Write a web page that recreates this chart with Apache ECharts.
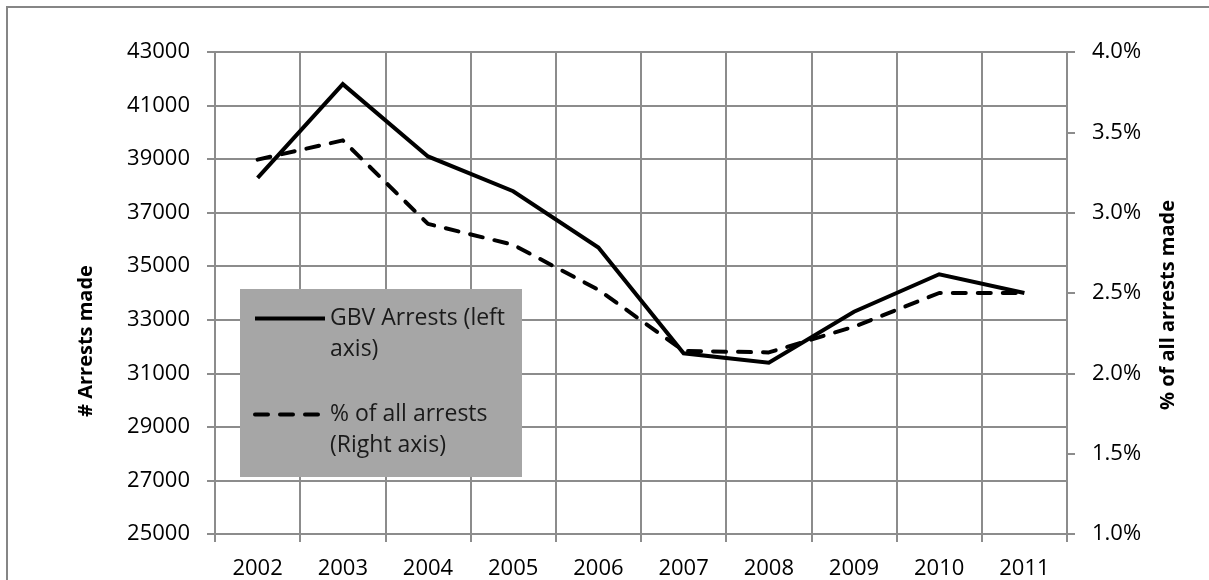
<!DOCTYPE html>
<html>
<head>
<meta charset="utf-8">
<script src="https://cdn.jsdelivr.net/npm/echarts@6/dist/echarts.min.js"></script>
<style>
html,body{margin:0;padding:0;background:#fff;}
#chart{width:1209px;height:580px;}
</style>
</head>
<body>
<div id="chart"></div>
<script>
const years = ['2002','2003','2004','2005','2006','2007','2008','2009','2010','2011'];
const gbvArrests = [38300, 41800, 39100, 37800, 35700, 31750, 31400, 33300, 34700, 34000];
const pctOfAll = [3.33, 3.45, 2.93, 2.80, 2.52, 2.14, 2.13, 2.29, 2.50, 2.50];
const leftTicks = [25000, 27000, 29000, 31000, 33000, 35000, 37000, 39000, 41000, 43000];
const rightTicks = [1.0, 1.5, 2.0, 2.5, 3.0, 3.5, 4.0];
const seriesNames = ['GBV Arrests (left axis)', '% of all arrests (Right axis)'];
const legendLabels = ['GBV Arrests (left\naxis)', '% of all arrests\n(Right axis)'];
const leftTitle = '# Arrests made';
const rightTitle = '% of all arrests made';

const FONT = '"Open Sans", "Liberation Sans", sans-serif';
const GRID = '#8c8c8c';

const chart = echarts.init(document.getElementById('chart'), null, {renderer: 'canvas'});
chart.setOption({
  animation: false,
  backgroundColor: '#fff',
  textStyle: {fontFamily: FONT},
  grid: {left: 215, right: 142, top: 52, bottom: 43, containLabel: false},
  xAxis: {
    type: 'category',
    data: years,
    boundaryGap: true,
    axisLine: {show: true, lineStyle: {color: GRID, width: 2}},
    axisTick: {show: true, length: 8, inside: false, lineStyle: {color: GRID, width: 2}},
    splitLine: {show: true, lineStyle: {color: GRID, width: 2}},
    axisLabel: {color: '#000', fontSize: 22, fontFamily: FONT, margin: 24}
  },
  yAxis: [
    {
      type: 'value',
      min: leftTicks[0],
      max: leftTicks[leftTicks.length - 1],
      axisLine: {show: true, lineStyle: {color: GRID, width: 2}},
      axisTick: {show: true, length: 8, inside: false, customValues: leftTicks, lineStyle: {color: GRID, width: 2}},
      splitLine: {show: true, lineStyle: {color: GRID, width: 2}},
      axisLabel: {color: '#000', fontSize: 22, fontFamily: FONT, margin: 25, customValues: leftTicks,
        formatter: v => String(v)}
    },
    {
      type: 'value',
      position: 'right',
      min: rightTicks[0],
      max: rightTicks[rightTicks.length - 1],
      interval: 0.5,
      axisLine: {show: true, lineStyle: {color: GRID, width: 2}},
      axisTick: {show: true, length: 8, inside: false, lineStyle: {color: GRID, width: 2}},
      splitLine: {show: false},
      axisLabel: {color: '#000', fontSize: 22, fontFamily: FONT, margin: 25,
        formatter: v => v.toFixed(1) + '%'}
    }
  ],
  legend: {
    orient: 'vertical',
    left: 253,
    top: 272,
    padding: 0,
    itemGap: 3,
    itemWidth: 70,
    itemHeight: 14,
    selectedMode: false,
    data: seriesNames,
    lineStyle: {width: 4},
    itemStyle: {color: 'rgba(0,0,0,0)', borderWidth: 0, opacity: 0},
    formatter: name => ' \n' + legendLabels[seriesNames.indexOf(name)],
    textStyle: {color: '#1a1a1a', fontSize: 23, fontFamily: FONT, lineHeight: 31},
    z: 5
  },
  graphic: [
    {type: 'rect', z: 1, shape: {x: 240, y: 289, width: 282, height: 188}, style: {fill: '#a6a6a6'}},
    {type: 'rect', z: 10, shape: {x: 7, y: 7, width: 1220, height: 600}, style: {fill: 'none', stroke: '#868686', lineWidth: 2}},
    {type: 'text', z: 10, x: 86, y: 341, rotation: Math.PI / 2,
      style: {text: leftTitle, font: 'bold 20px ' + FONT, fill: '#000', align: 'center', verticalAlign: 'middle'}},
    {type: 'text', z: 10, x: 1168, y: 305, rotation: Math.PI / 2,
      style: {text: rightTitle, font: 'bold 20px ' + FONT, fill: '#000', align: 'center', verticalAlign: 'middle'}}
  ],
  series: [
    {
      name: seriesNames[0],
      type: 'line',
      data: gbvArrests,
      yAxisIndex: 0,
      symbol: 'none',
      z: 6,
      lineStyle: {color: '#000', width: 4, join: 'miter'},
      itemStyle: {color: '#000'}
    },
    {
      name: seriesNames[1],
      type: 'line',
      data: pctOfAll,
      yAxisIndex: 1,
      symbol: 'none',
      z: 6,
      lineStyle: {color: '#000', width: 4, type: [13, 12], cap: 'round', join: 'round'},
      itemStyle: {color: '#000'}
    }
  ]
});
</script>
</body>
</html>
